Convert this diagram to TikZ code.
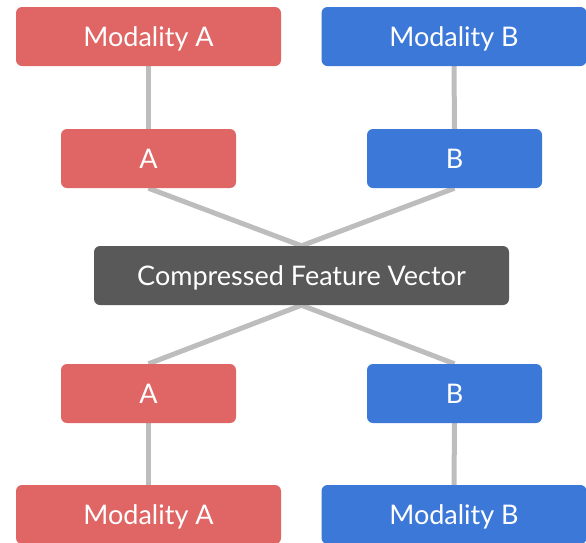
\documentclass[tikz,border=0pt]{standalone}
\usepackage{fontspec}
\setmainfont{Lato}
\usetikzlibrary{backgrounds}
\definecolor{redbox}{HTML}{E06666}
\definecolor{bluebox}{HTML}{3C78D8}
\definecolor{darkbox}{HTML}{595959}
\definecolor{linkgray}{HTML}{BDBDBD}
\begin{document}
\begin{tikzpicture}[x=1pt,y=-1pt,
  box/.style={rounded corners=6pt, inner sep=0pt, text=white,
    font=\fontsize{27}{30}\selectfont, text height=19.5pt, text depth=0pt},
  wide/.style={box, minimum width=265pt, minimum height=59pt},
  small/.style={box, minimum width=175pt, minimum height=59pt},
  center/.style={box, minimum width=415pt, minimum height=59pt, fill=darkbox},
  link/.style={draw=linkgray, line width=5pt}]
\useasboundingbox (0,0) rectangle (586,542);
\clip (0,0) rectangle (586,542);
% top modality boxes
\node[wide, fill=redbox]  (mA1) at (148.5,36.5) {Modality A};
\node[wide, fill=bluebox] (mB1) at (454,36.5) {Modality B};
% encoders
\node[small, fill=redbox]  (eA) at (148.5,158.5) {A};
\node[small, fill=bluebox] (eB) at (454.5,158.5) {B};
% shared representation
\node[center] (cv) at (301.5,275.5) {Compressed Feature Vector};
% decoders
\node[small, fill=redbox]  (dA) at (148.5,393.5) {A};
\node[small, fill=bluebox] (dB) at (454.5,393.5) {B};
% bottom modality boxes
\node[wide, fill=redbox]  (mA2) at (148.5,514.5) {Modality A};
\node[wide, fill=bluebox] (mB2) at (454,514.5) {Modality B};
% connectors, kept behind the boxes
\begin{scope}[on background layer]
\draw[link] (mA1.south) -- (eA.north);
\draw[link] (mB1.south) -- (eB.north);
\draw[link] (eA.south) -- (cv.north);
\draw[link] (eB.south) -- (cv.north);
\draw[link] (cv.south) -- (dA.north);
\draw[link] (cv.south) -- (dB.north);
\draw[link] (dA.south) -- (mA2.north);
\draw[link] (dB.south) -- (mB2.north);
\end{scope}
\end{tikzpicture}
\end{document}
